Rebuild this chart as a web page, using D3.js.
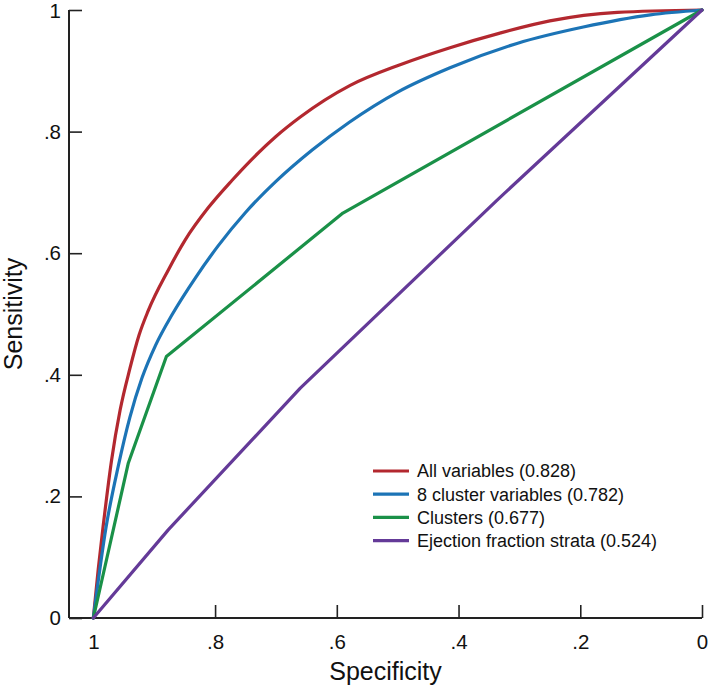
<!DOCTYPE html>
<html>
<head>
<meta charset="utf-8">
<script src="https://cdn.jsdelivr.net/npm/d3@7"></script>
<style>
  html, body { margin: 0; padding: 0; background: #fff; }
  svg { display: block; font-family: "Liberation Sans", Arial, Helvetica, sans-serif; }
</style>
</head>
<body>
<svg id="chart" width="709" height="690"></svg>
<script>
// ---- data ----
const tickValues = [1, 0.8, 0.6, 0.4, 0.2, 0];
const tickLabels = ["1", ".8", ".6", ".4", ".2", "0"];
const seriesNames = ["All variables (0.828)", "8 cluster variables (0.782)", "Clusters (0.677)", "Ejection fraction strata (0.524)"];
const seriesColors = ["#b3282f", "#1c74b6", "#1a9148", "#643a98"];
// 1 - specificity (false positive rate) and sensitivity for each curve
const allVarFpr  = [0, 0.008, 0.016, 0.030, 0.044, 0.060, 0.075, 0.090, 0.123, 0.151, 0.189, 0.228, 0.258, 0.30, 0.34, 0.422, 0.504, 0.586, 0.668, 0.75, 0.861, 1];
const allVarSens = [0, 0.08, 0.15, 0.26, 0.342, 0.41, 0.465, 0.505, 0.572, 0.622, 0.675, 0.720, 0.752, 0.792, 0.824, 0.876, 0.910, 0.938, 0.962, 0.982, 0.996, 1];
const clusVarFpr  = [0, 0.021, 0.041, 0.06, 0.08, 0.102, 0.130, 0.168, 0.205, 0.25, 0.30, 0.36, 0.42, 0.50, 0.586, 0.696, 0.805, 0.915, 1];
const clusVarSens = [0, 0.15, 0.25, 0.33, 0.395, 0.448, 0.50, 0.56, 0.612, 0.667, 0.718, 0.77, 0.815, 0.865, 0.905, 0.945, 0.972, 0.992, 1];
const clustersFpr  = [0, 0.0575, 0.12, 0.41, 1];
const clustersSens = [0, 0.255, 0.43, 0.666, 1];
const efFpr  = [0, 0.123, 0.34, 0.663, 1];
const efSens = [0, 0.145, 0.378, 0.687, 1];

const series = [
  { fpr: allVarFpr, sens: allVarSens, smooth: true },
  { fpr: clusVarFpr, sens: clusVarSens, smooth: true },
  { fpr: clustersFpr, sens: clustersSens, smooth: false },
  { fpr: efFpr, sens: efSens, smooth: false }
];

// ---- layout ----
const svg = d3.select("#chart");
const plotL = 69, plotR = 702, plotT = 10, plotB = 618;
const x = d3.scaleLinear().domain([1.04, 0]).range([plotL, plotR]);   // specificity
const y = d3.scaleLinear().domain([0, 1]).range([plotB, plotT]);      // sensitivity
const fmt = d => tickLabels[tickValues.indexOf(d)];

// axes
const xAxis = d3.axisBottom(x).tickValues(tickValues).tickFormat(fmt).tickSizeInner(-13).tickSizeOuter(0).tickPadding(16);
const yAxis = d3.axisLeft(y).tickValues(tickValues).tickFormat(fmt).tickSizeInner(-13).tickSizeOuter(0).tickPadding(8);

const gx = svg.append("g").attr("transform", `translate(0,${plotB})`).call(xAxis);
const gy = svg.append("g").attr("transform", `translate(${plotL},0)`).call(yAxis);
[gx, gy].forEach(g => {
  g.select(".domain").attr("stroke", "#222").attr("stroke-width", 2);
  g.selectAll(".tick line").attr("stroke", "#222").attr("stroke-width", 1.6);
  g.selectAll(".tick text").attr("fill", "#111").style("font-size", "20.5px");
});
gx.select(".domain").attr("d", `M${plotL},0H${plotR}`);
gy.select(".domain").attr("d", `M0,${plotB}V${plotT}`);
gy.selectAll(".tick text").filter(d => d === 1).attr("dy", "0.38em");

// curves
series.forEach((s, i) => {
  const pts = s.fpr.map((f, j) => [1 - f, s.sens[j]]);
  const line = d3.line().x(d => x(d[0])).y(d => y(d[1])).curve(s.smooth ? d3.curveMonotoneX : d3.curveLinear);
  svg.append("path").datum(pts).attr("d", line)
    .attr("fill", "none").attr("stroke", seriesColors[i]).attr("stroke-width", 3.2)
    .attr("stroke-linejoin", "round").attr("stroke-linecap", "round");
});

// axis titles
svg.append("text").attr("x", (plotL + plotR) / 2).attr("y", 680).attr("text-anchor", "middle")
  .style("font-size", "25px").attr("fill", "#111").text("Specificity");
svg.append("text").attr("transform", `translate(22,${(plotT + plotB) / 2}) rotate(-90)`).attr("text-anchor", "middle")
  .style("font-size", "25px").attr("fill", "#111").text("Sensitivity");

// legend
const legend = svg.append("g");
seriesNames.forEach((name, i) => {
  const ly = 471 + i * 23.2;
  legend.append("line").attr("x1", 373).attr("x2", 409).attr("y1", ly).attr("y2", ly)
    .attr("stroke", seriesColors[i]).attr("stroke-width", 3.2);
  legend.append("text").attr("x", 417).attr("y", ly).attr("dy", "0.35em")
    .style("font-size", "18px").attr("fill", "#111").text(name);
});
</script>
</body>
</html>
